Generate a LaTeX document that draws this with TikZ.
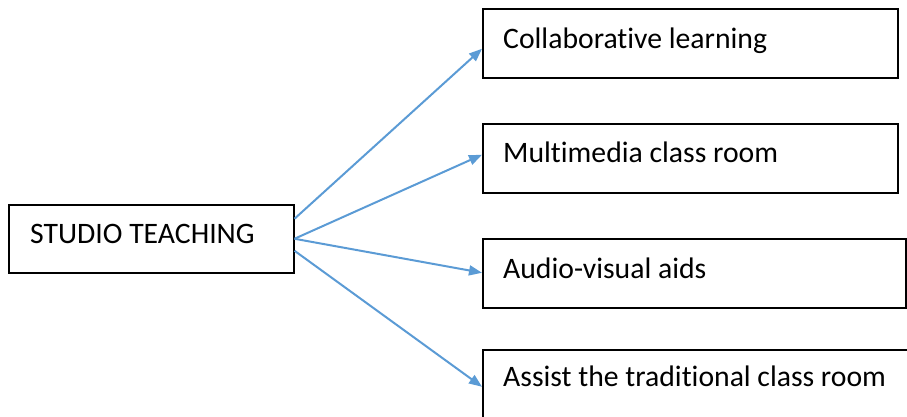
\documentclass[tikz,border=0pt]{standalone}
\usepackage{fontspec}
\setmainfont[Ligatures={NoCommon}]{Carlito}
\usetikzlibrary{arrows.meta,calc}
\tikzset{
  box/.style={draw=black, line width=1.5pt, inner sep=0pt, anchor=north west},
  lbl/.style={anchor=base west, inner sep=0pt, font=\fontsize{29.7}{34}\selectfont, text=black},
  conn/.style={draw={rgb,255:red,91;green,155;blue,213}, line width=2pt,
    -{Triangle[length=13pt,width=10pt]}}
}
\begin{document}
\begin{tikzpicture}[x=1pt,y=-1pt]
\useasboundingbox (0,0) rectangle (907,416);
\node[box, minimum width=285pt, minimum height=68pt] (L) at (8,204) {};
\node[box, minimum width=415pt, minimum height=69pt] (B1) at (482,8) {};
\node[box, minimum width=415pt, minimum height=69pt] (B2) at (482,123) {};
\node[box, minimum width=423pt, minimum height=69pt] (B3) at (482,238) {};
\node[box, minimum width=440pt, minimum height=69pt] (B4) at (482,349) {};
\node[lbl] (tL) at (30,243) {STUDIO TEACHING};
\node[lbl] (t1) at (503,48) {Collaborative learning};
\node[lbl] (t2) at (503,162) {Multimedia class room};
\node[lbl] (t3) at (503,278) {Audio-visual aids};
\node[lbl] (t4) at (503,386) {Assist the traditional class room};
\draw[conn] ([yshift=20pt]L.east) -- ([yshift=-5.5pt]B1.west);
\draw[conn] (L.east) -- ([yshift=3.5pt]B2.west);
\draw[conn] (L.east) -- ([yshift=0.5pt]B3.west);
\draw[conn] ([yshift=-12pt]L.east) -- ([yshift=-2.5pt]B4.west);
\end{tikzpicture}
\end{document}
